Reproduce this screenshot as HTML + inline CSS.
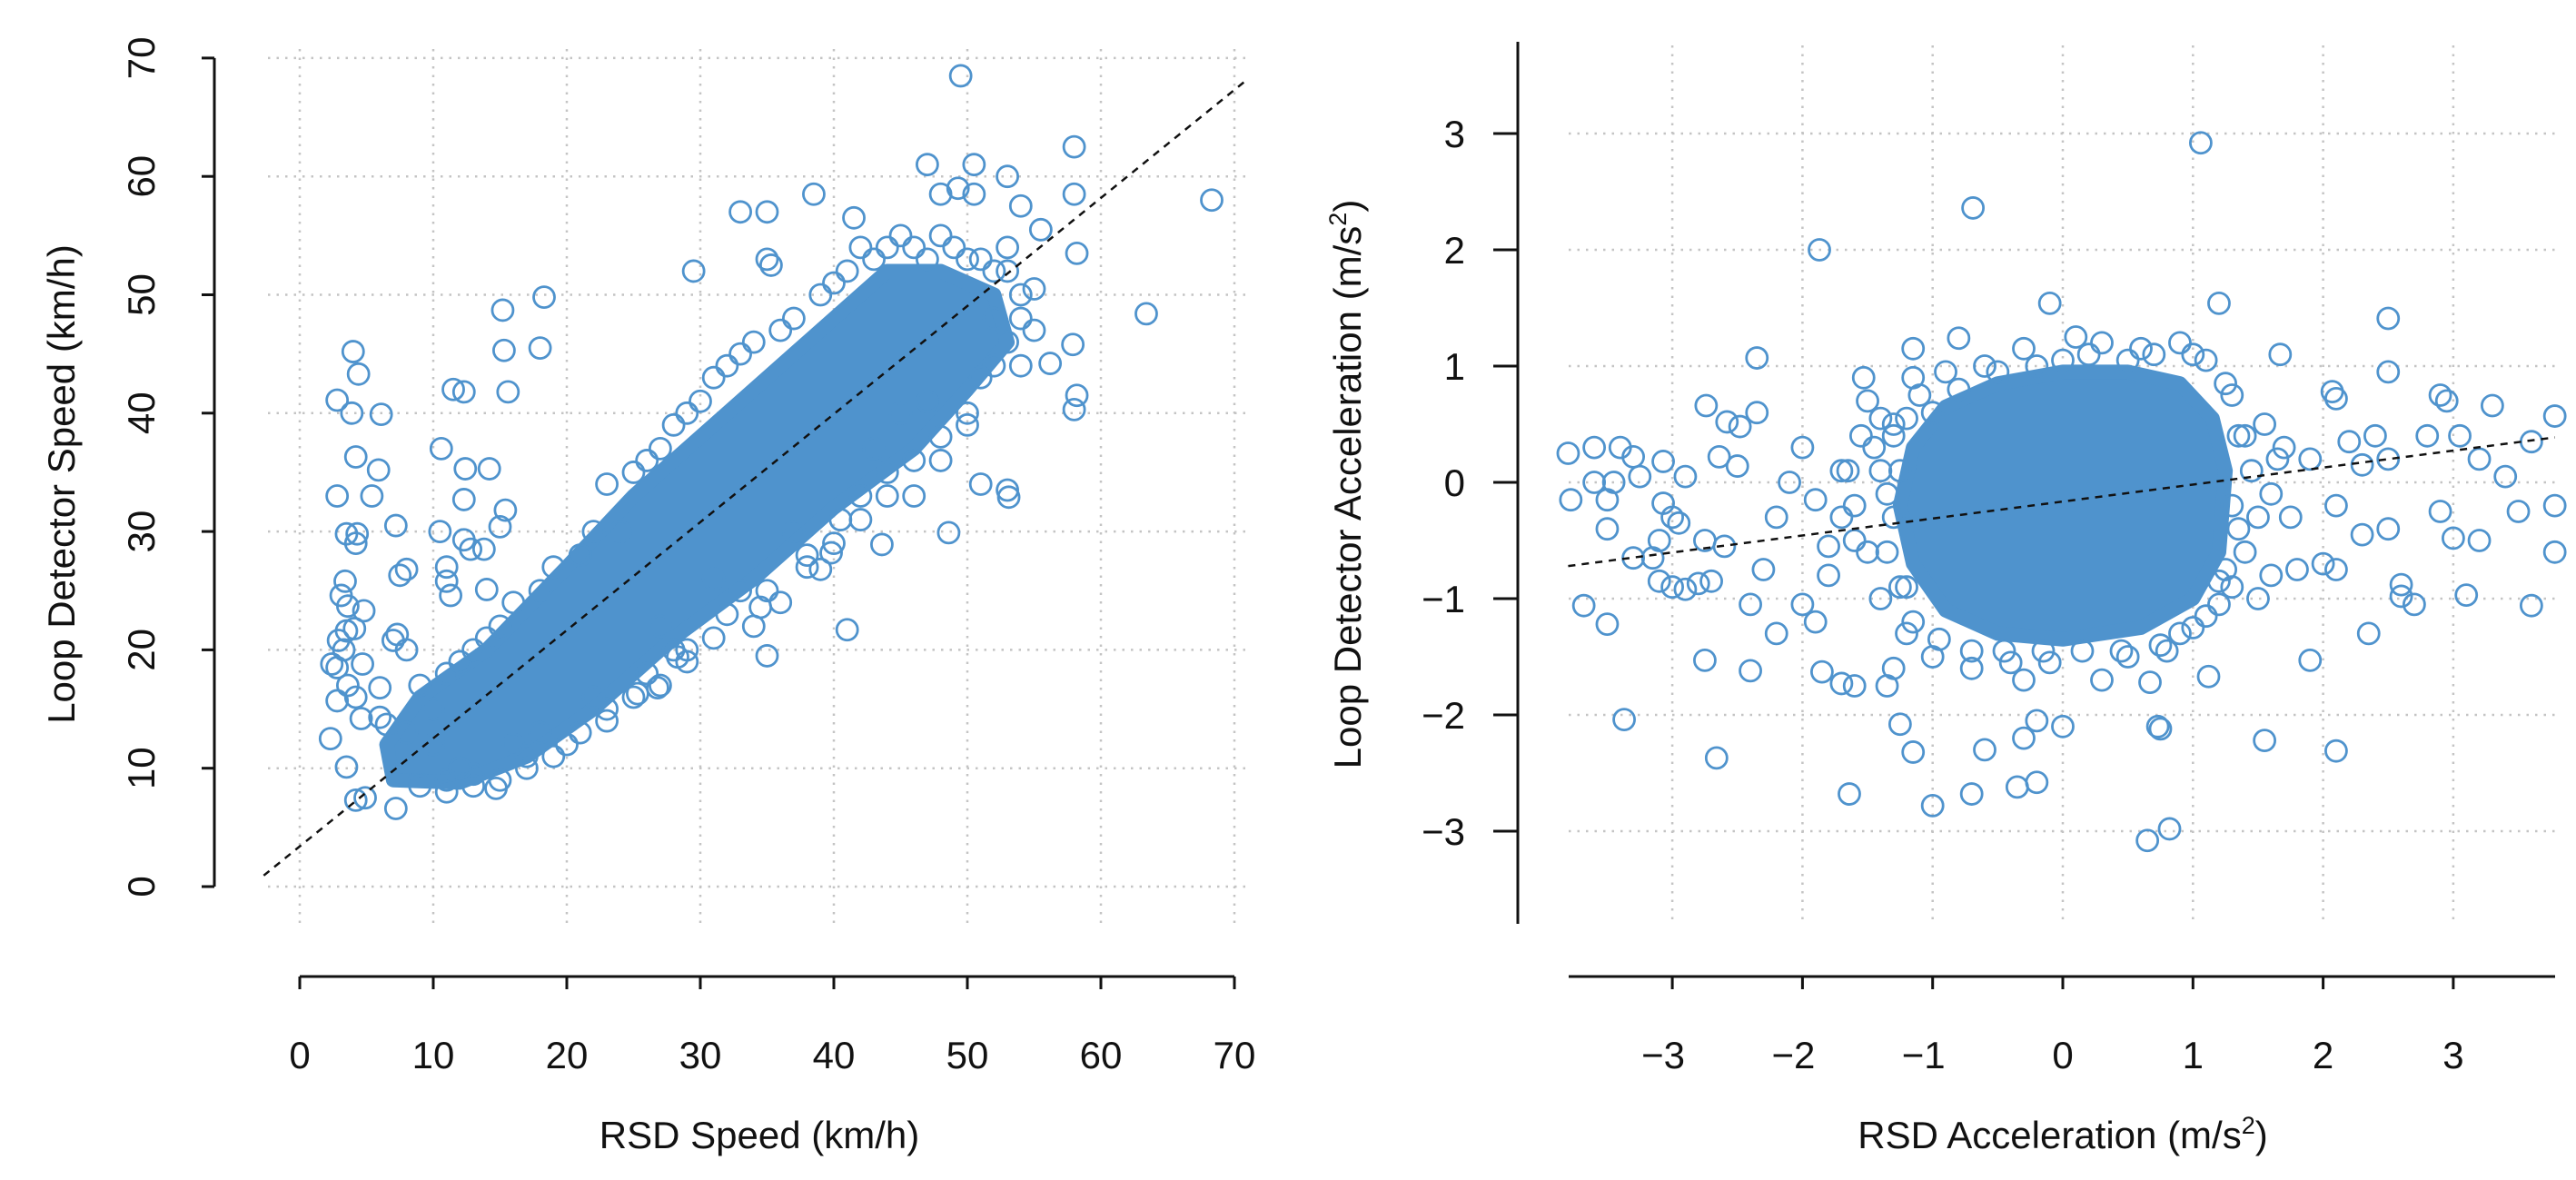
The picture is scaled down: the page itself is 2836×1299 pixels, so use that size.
<!DOCTYPE html>
<html><head><meta charset="utf-8"><style>
html,body{margin:0;padding:0;background:#fff;}
svg{display:block;font-family:"Liberation Sans",Arial,sans-serif;}
</style></head><body>
<svg id="chart" width="2836" height="1299" viewBox="0 0 2836 1299" xmlns="http://www.w3.org/2000/svg">
<g id="left"></g>
<g id="right"></g>
</svg>
<script>
// ---------- Left panel data (km/h) ----------
const speedTicks = [0,10,20,30,40,50,60,70];
const speedOutX = [49.5,58,47,50.5,53,49.3,50.5,48,58,68.3,38.5,33,35,41.5,54,55.5,58.2,29.5,35,35.3,63.4,57.9,56.2,58.2,58,18.3,15.2,15.3,18,4,4.4,2.8,3.9,6.1,11.5,12.3,15.6,10.6,4.2,5.9,12.4,14.2,2.8,5.4,12.3,15.4,15,7.2,3.5,4.3,4.2,10.5,12.3,12.8,13.8,11,7.5,8,11,11.3,14,3.4,3.1,3.6,4.8,3.5,2.9,4.1,3.3,7,7.3,8,2.4,2.8,4.7,3.6,4.2,2.8,6,4.6,2.3,6,6.5,3.5,4.2,4.9,7.2,14.7,35,41,39,43.6,48.6,51,53,53.1,39.8,40.5,26.8,25.3,28.3,34.5];
const speedOutY = [68.5,62.5,61,61,60,59,58.5,58.5,58.5,58,58.5,57,57,56.5,57.5,55.5,53.5,52,53,52.5,48.4,45.8,44.2,41.5,40.3,49.8,48.7,45.3,45.5,45.2,43.3,41.1,40,39.9,42,41.8,41.8,37,36.3,35.2,35.3,35.3,33,33,32.7,31.8,30.4,30.5,29.8,29.8,29,30,29.3,28.5,28.5,27,26.3,26.8,25.8,24.6,25.1,25.8,24.6,23.7,23.3,21.6,20.8,21.8,20,20.8,21.3,20,18.8,18.5,18.8,17,16,15.7,16.8,14.2,12.5,14.3,13.7,10.1,7.3,7.5,6.6,8.3,19.5,21.7,26.8,28.9,29.9,34,33.5,32.9,28.2,31,16.8,16.3,19.4,23.6];
const speedRimX = [10,12,14,16,19,22,23,26,28,31,33,36,39,42,45,48,50,52,54,53,51,50,48,46,44,42,38,35,32,29,26,23,20,17,13,11,9,7.5,8,53,55,52,47,45,43,37,31,27,9,11,13,15,18,21,24,25,27,29,30,32,34,37,40,41,43,44,46,47,49,51,52,53,54,55,54,50,48,46,44,42,40,38,36,34,33,31,29,27,25,23,21,19,17,15,13,11,10,12,16,18,22,28];
const speedRimY = [15,19,21,24,27,30,34,36,39,43,45,47,50,54,55,55,53,52,50,46,43,40,38,36,33,31,28,25,23,19,18,14,12,11,8.5,8,8.5,9.5,13,54,50.5,44,41,40,37,30,26,22,17,18,20,22,25,28,30,35,37,40,41,44,46,48,51,52,53,54,54,53,54,53,48,52,48,47,44,39,36,33,35,33,29,27,24,22,25,21,20,17,16,15,13,11,10,9,9.5,9,12,10,12,13,16,20];
const speedCoreX = [7,12,17,22,28,34,40,46,50,53,52,48,44,40,35,30,25,20,14,9,6.5];
const speedCoreY = [9,8.8,11,15,21,26,32,37,42,46,50,52,52,48,43,38,33,27,20,16,12];
const speedFitIntercept = 3.4, speedFitSlope = 0.913;

// ---------- Right panel data (m/s^2) ----------
const accTicks = [-3,-2,-1,0,1,2,3];
const accOutX = [1.06,-0.69,-1.87,-0.1,1.2,2.5,-0.8,-1.15,-2.35,1.67,-1.53,-1.15,2.5,-2.74,-2.35,2.07,2.1,2.9,2.95,3.3,3.78,-2.58,-2.48,-3.6,-3.4,-3.8,-3.3,-3.07,-2.64,-2.5,-3.6,-3.45,-3.25,-2.9,-3.78,-3.5,-3.07,-3.0,-2.95,-3.5,-3.1,-3.3,-3.15,-3.1,-3.0,-2.9,-2.8,-3.68,-3.5,-2.75,-2.4,-3.37,-2.66,-1.64,-1.0,-0.7,-0.35,-0.2,0.65,0.82,-1.15,-0.6,-0.3,0.73,0.75,1.55,2.1,1.9,2.35,1.12,0.67,-1.25,-0.2,0.0,-1.35,-1.6,3.1,3.6,2.6,2.7,2.6,3.0,3.2,2.9,3.5,3.78,3.78,3.4,3.2,3.6,2.8,2.4,2.2,2.5,2.3,2.1,2.1,2.0,1.8,1.6,1.7,1.9,2.3,1.2,-2.0,-2.1,-1.9,-2.2,-2.6,-2.3,-2.4,-2.2,-1.9,-2.0,-1.85,-1.7,-1.3,-1.8,-1.6,-1.55,-1.4,-1.7,2.5,3.05,-2.75,-2.7];
const accOutY = [2.92,2.36,2.0,1.54,1.54,1.41,1.24,1.15,1.07,1.1,0.9,0.9,0.95,0.66,0.6,0.78,0.72,0.75,0.7,0.66,0.57,0.52,0.48,0.3,0.3,0.25,0.22,0.18,0.22,0.14,0,0,0.05,0.05,-0.15,-0.15,-0.18,-0.3,-0.35,-0.4,-0.5,-0.65,-0.65,-0.85,-0.9,-0.92,-0.87,-1.06,-1.22,-1.53,-1.62,-2.04,-2.37,-2.68,-2.78,-2.68,-2.62,-2.58,-3.08,-2.98,-2.32,-2.3,-2.2,-2.1,-2.12,-2.22,-2.31,-1.53,-1.3,-1.67,-1.72,-2.08,-2.05,-2.1,-1.75,-1.75,-0.97,-1.06,-0.98,-1.05,-0.88,-0.48,-0.5,-0.25,-0.25,-0.6,-0.2,0.05,0.2,0.35,0.4,0.4,0.35,-0.4,-0.45,-0.2,-0.75,-0.7,-0.75,-0.8,0.3,0.2,0.15,-0.85,0.3,0.0,-0.15,-0.3,-0.55,-0.75,-1.05,-1.3,-1.2,-1.05,-1.63,-1.73,-1.6,-0.8,-0.5,0.4,0.55,0.1,0.2,0.4,-0.5,-0.85];
const accRimX = [-1.5,-1.3,-1.45,-1.6,-1.5,-1.4,-1.2,-1.0,-0.7,-0.4,-0.1,0.3,0.5,0.9,1.1,1.3,1.4,1.5,1.45,1.4,1.3,1.1,0.9,0.6,0.3,0.0,-0.3,-0.5,-0.8,-1.0,-1.3,-1.25,1.6,1.55,-1.2,0.1,0.8,-0.3,-1.35,-1.25,-1.4,-1.3,-1.35,-1.2,-1.1,-0.9,-0.6,-0.2,0.2,0.5,0.7,1.0,1.25,1.35,1.3,1.35,1.25,1.2,1.0,0.75,0.45,0.15,-0.15,-0.45,-0.7,-0.95,-1.15,-1.7,-1.8,-1.65,1.65,1.75,1.5];
const accRimY = [0.7,0.5,0.3,-0.2,-0.6,-1.0,-1.3,-1.5,-1.6,-1.55,-1.55,-1.7,-1.5,-1.3,-1.15,-0.9,-0.6,-0.3,0.1,0.4,0.75,1.05,1.2,1.15,1.2,1.05,1.15,0.95,0.8,0.6,-0.3,0.1,-0.1,0.5,-0.9,1.25,-1.45,-1.7,-0.6,-0.9,0.1,0.4,-0.1,0.55,0.75,0.95,1.0,1.0,1.1,1.05,1.1,1.1,0.85,0.4,-0.2,-0.4,-0.75,-1.05,-1.25,-1.4,-1.45,-1.45,-1.45,-1.45,-1.45,-1.35,-1.2,-0.3,-0.55,0.1,0.2,-0.3,-1.0];
const accCoreX = [-1.15,-0.9,-0.5,0.0,0.5,0.9,1.15,1.25,1.2,1.0,0.6,0.0,-0.5,-0.9,-1.15,-1.25];
const accCoreY = [0.3,0.65,0.85,0.95,0.95,0.85,0.55,0.1,-0.6,-1.0,-1.25,-1.35,-1.3,-1.1,-0.7,-0.2];
const accFitIntercept = -0.165, accFitSlope = 0.146;

const NS = "http://www.w3.org/2000/svg";
const BLUE = "#4f93cd";
const R_PT = 11.5, SW_PT = 2.8;
function mk(parent, tag, attrs, name, inter) {
  const el = document.createElementNS(NS, tag);
  for (const k in attrs) el.setAttribute(k, attrs[k]);
  
  
  parent.appendChild(el);
  return el;
}

// ---------- Left panel ----------
const L = document.getElementById('left');
const lx = v => 330 + v * 14.7;
const ly = v => 976 - v * 13.03;
speedTicks.forEach(t => {
  mk(L, 'line', {x1:295, x2:1377, y1:ly(t), y2:ly(t), stroke:'#c4c4c4', 'stroke-width':2.5, 'stroke-dasharray':'2.5 7'}, 'h-gridline', false);
  mk(L, 'line', {x1:lx(t), x2:lx(t), y1:54, y2:1017, stroke:'#c4c4c4', 'stroke-width':2.5, 'stroke-dasharray':'2.5 7'}, 'v-gridline', false);
});
mk(L, 'polygon', {points: speedCoreX.map((x,i)=>lx(x)+','+ly(speedCoreY[i])).join(' '), fill:BLUE, stroke:BLUE, 'stroke-width':16, 'stroke-linejoin':'round'}, 'dense-point-cloud', false);
speedRimX.forEach((x,i) => mk(L, 'circle', {cx:lx(x), cy:ly(speedRimY[i]), r:R_PT, fill:'none', stroke:BLUE, 'stroke-width':SW_PT}, 'data-point', false));
speedOutX.forEach((x,i) => mk(L, 'circle', {cx:lx(x), cy:ly(speedOutY[i]), r:R_PT, fill:'none', stroke:BLUE, 'stroke-width':SW_PT}, 'data-point', false));
mk(L, 'line', {x1:lx(-2.7), y1:ly(speedFitIntercept + speedFitSlope*-2.7), x2:lx(71), y2:ly(speedFitIntercept + speedFitSlope*71), stroke:'#111', 'stroke-width':2.5, 'stroke-dasharray':'8 7'}, 'regression-line', false);
mk(L, 'line', {x1:236, x2:236, y1:ly(70), y2:ly(0), stroke:'#111', 'stroke-width':3}, 'y-axis-line', false);
speedTicks.forEach(t => {
  mk(L, 'line', {x1:222, x2:236, y1:ly(t), y2:ly(t), stroke:'#111', 'stroke-width':3}, 'y-tick', false);
  const tx = mk(L, 'text', {x:0, y:0, transform:`translate(170,${ly(t)}) rotate(-90)`, 'text-anchor':'middle', 'font-size':42, fill:'#111'}, 'y-tick-label', false);
  tx.textContent = t;
});
mk(L, 'line', {x1:lx(0), x2:lx(70), y1:1075, y2:1075, stroke:'#111', 'stroke-width':3}, 'x-axis-line', false);
speedTicks.forEach(t => {
  mk(L, 'line', {x1:lx(t), x2:lx(t), y1:1075, y2:1089, stroke:'#111', 'stroke-width':3}, 'x-tick', false);
  const tx = mk(L, 'text', {x:lx(t), y:1176, 'text-anchor':'middle', 'font-size':42, fill:'#111'}, 'x-tick-label', false);
  tx.textContent = t;
});
const lxt = mk(L, 'text', {x:836, y:1264, 'text-anchor':'middle', 'font-size':42, fill:'#111'}, 'x-axis-title', false);
lxt.textContent = 'RSD Speed (km/h)';
const lyt = mk(L, 'text', {x:0, y:0, transform:'translate(82,533) rotate(-90)', 'text-anchor':'middle', 'font-size':42, fill:'#111'}, 'y-axis-title', false);
lyt.textContent = 'Loop Detector Speed (km/h)';

// ---------- Right panel ----------
const R = document.getElementById('right');
const rx = v => 2271 + v * 143.3;
const ry = v => 531 - v * 128;
accTicks.forEach(t => {
  mk(R, 'line', {x1:1727, x2:2813, y1:ry(t), y2:ry(t), stroke:'#c4c4c4', 'stroke-width':2.5, 'stroke-dasharray':'2.5 7'}, 'h-gridline', false);
  mk(R, 'line', {x1:rx(t), x2:rx(t), y1:50, y2:1017, stroke:'#c4c4c4', 'stroke-width':2.5, 'stroke-dasharray':'2.5 7'}, 'v-gridline', false);
});
mk(R, 'polygon', {points: accCoreX.map((x,i)=>rx(x)+','+ry(accCoreY[i])).join(' '), fill:BLUE, stroke:BLUE, 'stroke-width':16, 'stroke-linejoin':'round'}, 'dense-point-cloud', false);
accRimX.forEach((x,i) => mk(R, 'circle', {cx:rx(x), cy:ry(accRimY[i]), r:R_PT, fill:'none', stroke:BLUE, 'stroke-width':SW_PT}, 'data-point', false));
accOutX.forEach((x,i) => mk(R, 'circle', {cx:rx(x), cy:ry(accOutY[i]), r:R_PT, fill:'none', stroke:BLUE, 'stroke-width':SW_PT}, 'data-point', false));
mk(R, 'line', {x1:rx(-3.8), y1:ry(accFitIntercept + accFitSlope*-3.8), x2:rx(3.78), y2:ry(accFitIntercept + accFitSlope*3.78), stroke:'#111', 'stroke-width':2.5, 'stroke-dasharray':'8 7'}, 'regression-line', false);
mk(R, 'line', {x1:1671, x2:1671, y1:46, y2:1017, stroke:'#111', 'stroke-width':3}, 'y-axis-line', false);
accTicks.forEach(t => {
  mk(R, 'line', {x1:1644, x2:1671, y1:ry(t), y2:ry(t), stroke:'#111', 'stroke-width':3}, 'y-tick', false);
  const tx = mk(R, 'text', {x:1613, y:ry(t)+15, 'text-anchor':'end', 'font-size':42, fill:'#111'}, 'y-tick-label', false);
  tx.textContent = t < 0 ? '\u2212' + Math.abs(t) : t;
});
mk(R, 'line', {x1:1727, x2:2813, y1:1075, y2:1075, stroke:'#111', 'stroke-width':3}, 'x-axis-line', false);
accTicks.forEach(t => {
  mk(R, 'line', {x1:rx(t), x2:rx(t), y1:1075, y2:1089, stroke:'#111', 'stroke-width':3}, 'x-tick', false);
  const tx = mk(R, 'text', {x:rx(t) - (t<0?10:0), y:1176, 'text-anchor':'middle', 'font-size':42, fill:'#111'}, 'x-tick-label', false);
  tx.textContent = t < 0 ? '\u2212' + Math.abs(t) : t;
});
const rxt = mk(R, 'text', {x:2271, y:1264, 'text-anchor':'middle', 'font-size':42, fill:'#111'}, 'x-axis-title', false);
rxt.innerHTML = 'RSD Acceleration (m/s<tspan dy="-16" font-size="27">2</tspan><tspan dy="16">)</tspan>';
const ryt = mk(R, 'text', {x:0, y:0, transform:'translate(1498,533) rotate(-90)', 'text-anchor':'middle', 'font-size':42, fill:'#111'}, 'y-axis-title', false);
ryt.innerHTML = 'Loop Detector Acceleration (m/s<tspan dy="-16" font-size="27">2</tspan><tspan dy="16">)</tspan>';
</script>
</body></html>
